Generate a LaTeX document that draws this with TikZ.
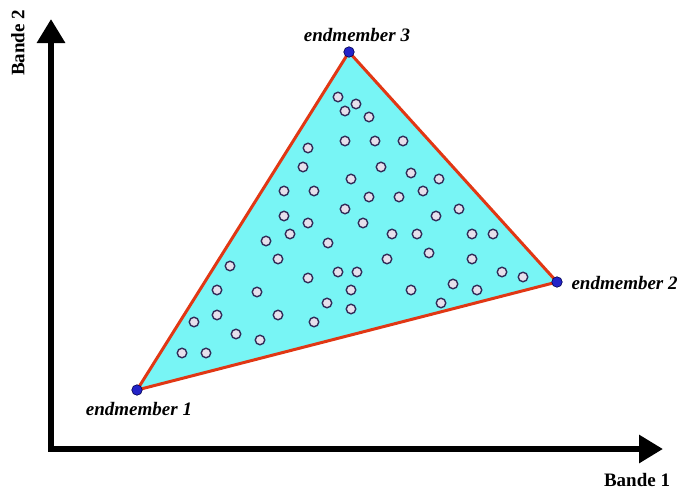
\documentclass[tikz,border=0pt]{standalone}
\usepackage{fontspec}
\setmainfont{Liberation Serif}
\usetikzlibrary{arrows.meta}
\definecolor{simplexfill}{RGB}{120,245,245}
\definecolor{simplexedge}{RGB}{225,55,20}
\definecolor{pixelfill}{RGB}{230,224,236}
\definecolor{pixeledge}{RGB}{50,45,90}
\definecolor{vertexfill}{RGB}{35,35,200}
\begin{document}
\begin{tikzpicture}[x=1pt,y=-1pt,
    axis/.style={line width=6pt,-{Triangle[length=24pt,width=27pt]}},
    pixel/.style={circle,draw=pixeledge,line width=1.4pt,fill=pixelfill,inner sep=0pt,minimum size=9.5pt},
    vertex/.style={circle,draw=blue!30!black,line width=0.6pt,fill=vertexfill,inner sep=0pt,minimum size=10.5pt},
    emname/.style={font=\fontsize{19}{22}\selectfont\bfseries\itshape}]
  \useasboundingbox (0,0) rectangle (677,490);
  % axes
  \coordinate (origin) at (51,449);
  \coordinate (ytip) at (51,19);
  \coordinate (xtip) at (663,449);
  \draw[axis] ([yshift=3pt]origin) -- (ytip);
  \draw[axis] ([xshift=-3pt]origin) -- (xtip);
  \node[font=\fontsize{19}{22}\selectfont\bfseries,rotate=90] (yname) at (18,43) {Bande 2};
  \node[font=\fontsize{19}{22}\selectfont\bfseries] (xname) at (637,480) {Bande 1};
  % simplex
  \coordinate (v1) at (137,390);
  \coordinate (v2) at (557,282);
  \coordinate (v3) at (349,52);
  \filldraw[fill=simplexfill,draw=simplexedge,line width=3pt,line join=round] (v1) -- (v2) -- (v3) -- cycle;
  \foreach \x/\y [count=\k] in {338/97, 356/104, 345/111, 369/117, 345/141, 375/141, 403/141,
      308/148, 303/167, 381/167, 411/173, 351/179, 439/179, 284/191, 314/191, 369/197,
      399/197, 423/191, 345/209, 459/209, 284/216, 436/216, 308/223, 363/223, 266/241,
      290/234, 328/243, 392/234, 417/234, 472/234, 493/234, 230/266, 278/259, 387/259,
      429/253, 472/259, 308/278, 338/272, 357/272, 502/272, 523/277, 217/290, 257/292,
      351/290, 411/290, 453/284, 477/290, 327/303, 351/309, 441/303, 194/322, 217/315,
      278/315, 314/322, 236/334, 260/340, 182/353, 206/353}{
    \node[pixel] (p\k) at (\x,\y) {};}
  \node[vertex] (em1) at (v1) {};
  \node[vertex] (em2) at (v2) {};
  \node[vertex] (em3) at (v3) {};
  \node[emname] at (139,409) {endmember 1};
  \node[emname,anchor=west] at (568,283) {endmember 2};
  \node[emname] at (357,35) {endmember 3};
\end{tikzpicture}
\end{document}
